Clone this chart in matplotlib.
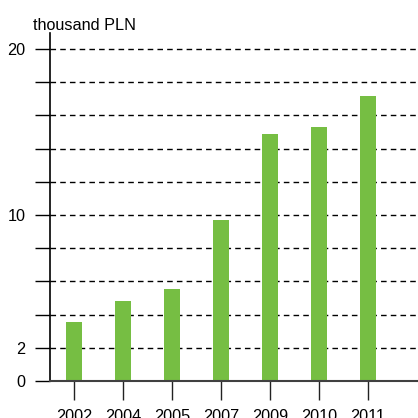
import matplotlib.pyplot as plt

# values (thousand PLN)
years = ['2002', '2004', '2005', '2007', '2009', '2010', '2011']
values = [3.55, 4.82, 5.55, 9.7, 14.88, 15.3, 17.17]
grid_levels = [2, 4, 6, 8, 10, 12, 14, 16, 18, 20]
major_ticks = [0, 2, 10, 20]
minor_ticks = [4, 6, 8, 12, 14, 16, 18]

plt.rcParams['font.family'] = ['Liberation Sans', 'DejaVu Sans']

fig = plt.figure(figsize=(4.18, 4.18), dpi=100)
ax = fig.add_axes([50 / 418, 37 / 418, 368 / 418, 348 / 418])

for lvl in grid_levels:
    ax.axhline(lvl, color='black', lw=1, ls=(0, (4, 3)), zorder=1)

x = range(len(years))
ax.bar(x, values, width=0.33, color='#76be43', zorder=2)

ax.set_xlim(-0.49, 7.02)
ax.set_ylim(0, 20.96)

ax.spines['top'].set_visible(False)
ax.spines['right'].set_visible(False)
ax.spines['left'].set_linewidth(1.2)
ax.spines['bottom'].set_color('#404040')
ax.spines['bottom'].set_linewidth(1.5)
ax.spines['bottom'].set_zorder(3)

ax.set_yticks(major_ticks)
ax.set_yticklabels([str(t) for t in major_ticks])
ax.set_yticks(minor_ticks, minor=True)
ax.tick_params(axis='y', which='both', length=11, width=1, pad=6.5, labelsize=11.7)
ax.set_xticks(list(x))
ax.set_xticklabels(years)
ax.tick_params(axis='x', length=14, width=1, pad=6, labelsize=11.7, color='#222222')

fig.text(33 / 418, 1 - 30 / 418, 'thousand PLN', fontsize=11.7, va='baseline', ha='left')

fig.savefig('out.png', dpi=100)
